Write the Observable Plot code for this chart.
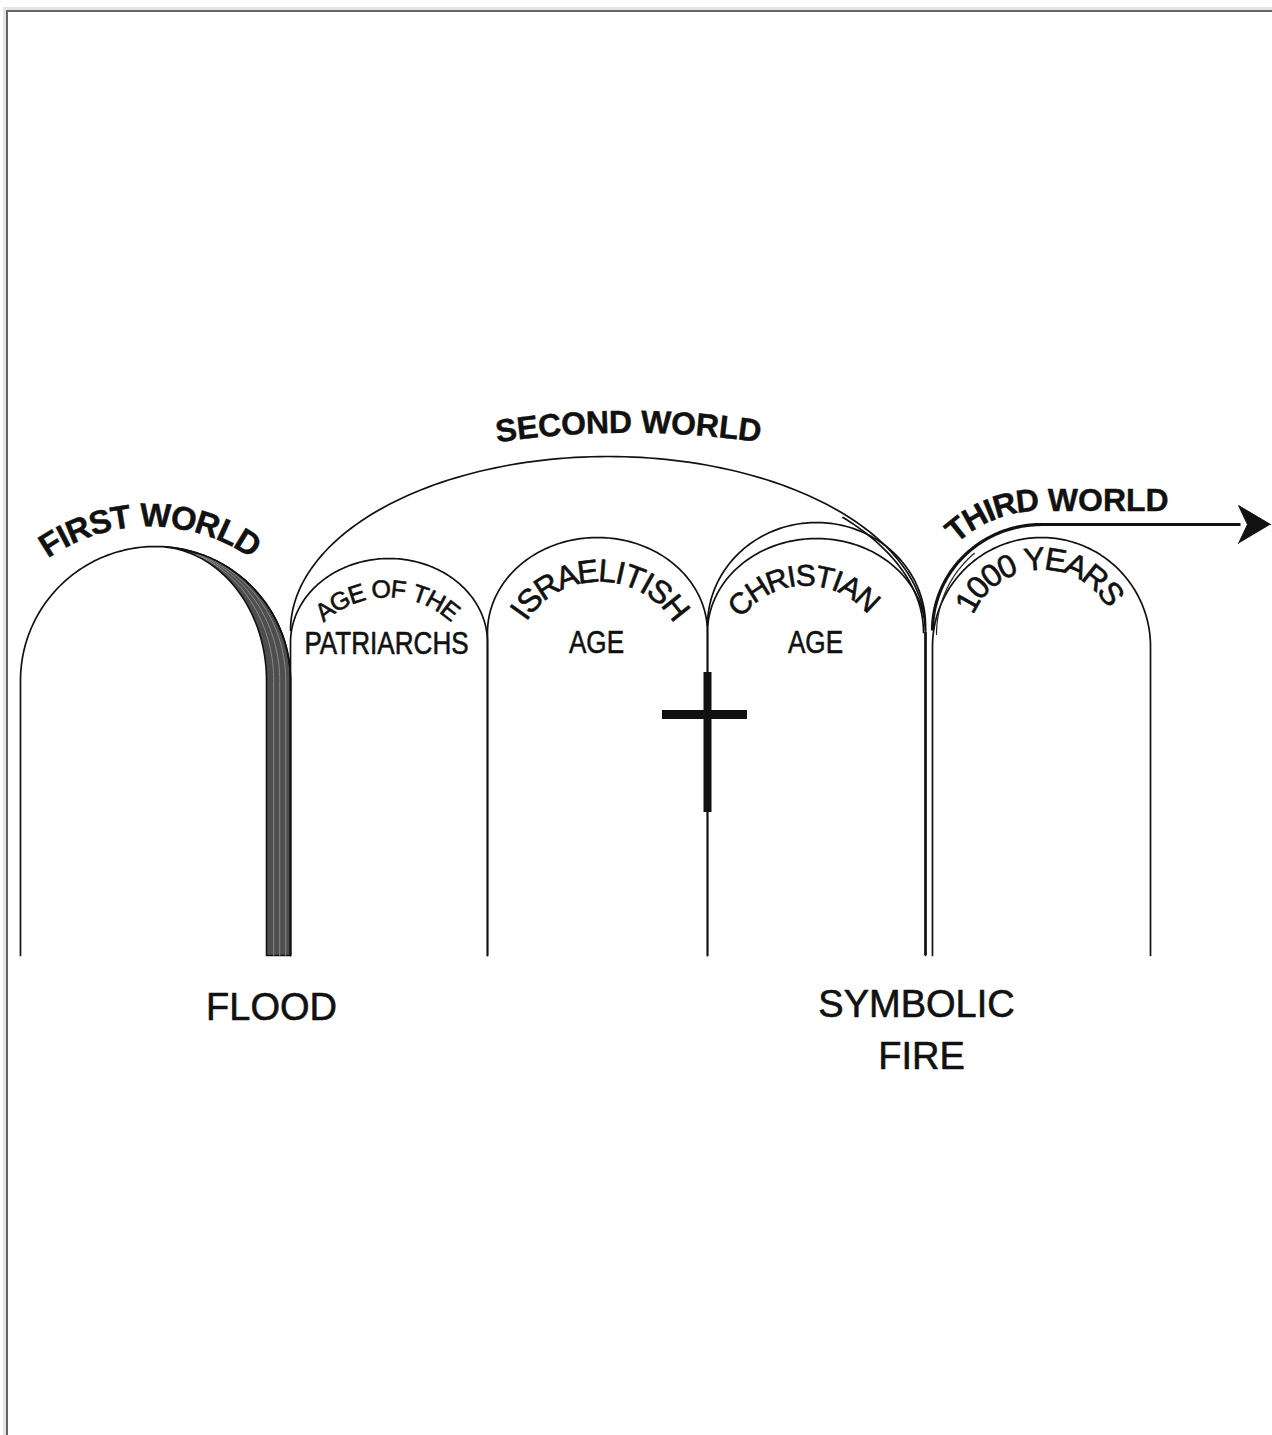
<!DOCTYPE html>
<html><head><meta charset="utf-8">
<script src="https://cdn.jsdelivr.net/npm/d3@7"></script>
<script src="https://cdn.jsdelivr.net/npm/@observablehq/plot@0.6"></script>
<style>
html,body{margin:0;padding:0;background:#fff;overflow:hidden;width:1272px;height:1435px;}
#chart{position:absolute;left:0;top:0;}
#frame{position:absolute;left:3px;top:7px;width:1400px;height:1600px;border-left:3px solid #e4e4e4;border-top:3px solid #e4e4e4;pointer-events:none;}
#frame div{width:100%;height:100%;border-left:2px solid #666;border-top:2px solid #666;}
</style></head><body>
<div id="chart"></div>
<div id="frame"><div></div></div>
<script>
// ---------- data (diagram units = page pixels, y measured downward) ----------
const ground = 955;
const archNames    = ["First world", "Age of the Patriarchs", "Israelitish age", "Christian age", "Christian age (outer)", "Second world", "1000 years"];
const archLeft     = [20, 290, 487, 707, 707, 290, 932];
const archRight    = [290, 487, 707, 925, 925, 925, 1150];
const archShoulder = [680, 642, 632, 632, 625, 630, 646];
const archApex     = [546, 558, 537, 538, 522, 456, 537];
const archLegs     = [true, true, true, true, false, false, true];

const floodInner = 266;           // inner edge of the shaded flood band

const curvedText   = ["FIRST WORLD", "SECOND WORLD", "AGE OF THE", "ISRAELITISH", "CHRISTIAN", "1000 YEARS"];
const curvedCx     = [149.5, 628, 387, 599, 805.5, 1041.5];
const curvedCy     = [703.5, 1326, 690, 668, 665, 644];
const curvedR      = [188, 904, 101, 97, 89.5, 85];
const curvedAngle  = [0, 0, 0, 0.5, -1.75, -2.7];
const curvedSize   = [33, 32, 25, 32, 30, 32];
const curvedBold   = [true, true, false, false, false, false];

const thirdWorldLabel = "THIRD WORLD";
const thirdWorldStart = 116;      // arc length to first letter centre along label path

const ageLabels = ["PATRIARCHS", "AGE", "AGE"];
const ageX = [386, 596, 815];
const ageY = [653, 652, 652];

const eventLabels = ["FLOOD", "SYMBOLIC", "FIRE"];
const eventX = [271, 916, 921];
const eventY = [1019, 1016, 1068];

const crossX = 707, crossTop = 672, crossBottom = 812, crossBarY = 714, crossLeft = 662, crossRight = 747;

// ---------- helpers ----------
const FONT = "'Liberation Sans', Arial, Helvetica, sans-serif";

function ellipsePts(cx, cy, rx, ry, t0, t1, n = 120) {
  const pts = [];
  for (let i = 0; i <= n; i++) {
    const t = (t0 + (t1 - t0) * i / n) * Math.PI / 180;
    pts.push([cx + rx * Math.cos(t), cy - ry * Math.sin(t)]);
  }
  return pts;
}
function makePoly(pts) {
  const cum = [0];
  for (let i = 1; i < pts.length; i++) cum.push(cum[i - 1] + Math.hypot(pts[i][0] - pts[i - 1][0], pts[i][1] - pts[i - 1][1]));
  return {pts, cum};
}
function pointAt(poly, s) {
  const {pts, cum} = poly;
  let i = 1;
  while (i < pts.length - 1 && cum[i] < s) i++;
  const a = pts[i - 1], b = pts[i];
  const f = (s - cum[i - 1]) / (cum[i] - cum[i - 1] || 1);
  return {x: a[0] + (b[0] - a[0]) * f, y: a[1] + (b[1] - a[1]) * f, rot: Math.atan2(b[1] - a[1], b[0] - a[0]) * 180 / Math.PI};
}
const ctx = document.createElement("canvas").getContext("2d");
function layout(text, poly, s, mode, size, bold, family) {
  ctx.font = `${bold ? "bold" : "normal"} ${size}px ${family}`;
  const chars = [...text];
  const edges = chars.map((_, i) => ctx.measureText(text.slice(0, i)).width);
  edges.push(ctx.measureText(text).width);
  const centers = chars.map((_, i) => (edges[i] + edges[i + 1]) / 2);
  const total = edges[edges.length - 1];
  const base = mode === "center" ? s - total / 2 : s - centers[0];
  const rows = [];
  chars.forEach((c, i) => {
    if (c === " ") return;
    const p = pointAt(poly, base + centers[i]);
    rows.push({ch: c, x: p.x, y: p.y, rot: p.rot, size});
  });
  return rows;
}

// ---------- geometry from data ----------
const archRows = [];
archNames.forEach((name, i) => {
  const L = archLeft[i], R = archRight[i], cy = archShoulder[i];
  let pts = ellipsePts((L + R) / 2, cy, (R - L) / 2, cy - archApex[i], 180, 0);
  if (archLegs[i]) pts = [[L, ground], ...pts, [R, ground]];
  pts.forEach(([x, y]) => archRows.push({arch: name, x, y}));
});
// second-world echo line near its right end
ellipsePts((archLeft[5] + archRight[5]) / 2 + 2, archShoulder[5] + 2, (archRight[5] - archLeft[5]) / 2 - 4, archShoulder[5] - archApex[5] - 2, 42, 0, 40)
  .forEach(([x, y]) => archRows.push({arch: "echo", x, y}));

// flood band
const fw = 0, fcx = (archLeft[fw] + archRight[fw]) / 2, fcy = archShoulder[fw], fry = fcy - archApex[fw];
const bandOuter = ellipsePts(fcx, fcy, archRight[fw] - fcx, fry, 85, 0, 60);
const bandInner = ellipsePts(fcx, fcy, floodInner - fcx, fry, 0, 85, 60);
const band = [...bandOuter, [archRight[fw], ground], [floodInner, ground], ...bandInner].map(([x, y]) => ({x, y}));
const streaks = [];
[0.3, 0.55, 0.8].forEach((f, k) => {
  const rx = floodInner - fcx + f * (archRight[fw] - floodInner);
  [...ellipsePts(fcx, fcy, rx, fry, 70, 0, 40), [fcx + rx, ground]].forEach(([x, y]) => streaks.push({k, x, y}));
});

// third world arrow path
const twL = archLeft[6], twCx = (archLeft[6] + archRight[6]) / 2, twY = 524, twEnd = 1240, twTip = 1270;
const twCurve = [...ellipsePts(twCx, archShoulder[5], twCx - twL, archShoulder[5] - twY, 180, 90, 60), [twEnd, twY]].map(([x, y]) => ({x, y}));
const twEcho = ellipsePts(twCx + 1, archShoulder[5] + 4, twCx - twL - 3, archShoulder[5] - twY, 180, 130, 30).map(([x, y]) => ({x, y}));
const arrowHead = [[twTip, twY], [twTip - 32, twY - 19], [twTip - 23, twY], [twTip - 32, twY + 19]].map(([x, y]) => ({x, y}));

// curved labels
const curvedRows = [];
curvedText.forEach((t, i) => {
  const r = curvedR[i];
  const poly = makePoly(ellipsePts(curvedCx[i], curvedCy[i], r, r, 180, 0, 720));
  const s = r * (90 + curvedAngle[i]) * Math.PI / 180;
  layout(t, poly, s, "center", curvedSize[i], curvedBold[i], FONT).forEach(d => curvedRows.push({...d, bold: curvedBold[i]}));
});
{
  const off = 24;
  const poly = makePoly([...ellipsePts(twCx, archShoulder[5], twCx - twL + off, archShoulder[5] - twY + off, 180, 90, 120), [1300, twY - off]]);
  layout(thirdWorldLabel, poly, thirdWorldStart, "start", 32, true, FONT).forEach(d => curvedRows.push({...d, bold: true}));
}

const ageRows = ageLabels.map((t, i) => ({t, x: ageX[i], y: ageY[i]}));
const eventRows = eventLabels.map((t, i) => ({t, x: eventX[i], y: eventY[i]}));

const plot = Plot.plot({
  width: 1272, height: 1435, margin: 0,
  style: {background: "transparent", overflow: "visible"},
  x: {domain: [0, 1272], range: [0, 1272], axis: null},
  y: {domain: [0, 1435], range: [0, 1435], axis: null},
  marks: [
    Plot.line(band, {x: "x", y: "y", fill: "#4e4e4e", stroke: "#111", strokeWidth: 1.6, curve: "linear"}),
    Plot.line(streaks, {x: "x", y: "y", z: "k", stroke: "#8a8a8a", strokeWidth: 1, curve: "linear"}),
    Plot.line(archRows, {x: "x", y: "y", z: "arch", stroke: "#111", strokeWidth: 1.7, curve: "linear"}),
    Plot.ruleX([archRight[3]], {y1: archShoulder[3], y2: ground, stroke: "#111", strokeWidth: 2.6}),
    Plot.line(twCurve, {x: "x", y: "y", stroke: "#111", strokeWidth: 3.2, curve: "linear", strokeLinecap: "butt"}),
    Plot.line(twEcho, {x: "x", y: "y", stroke: "#222", strokeWidth: 1.2, curve: "linear"}),
    Plot.line(arrowHead, {x: "x", y: "y", fill: "#111", stroke: "#111", strokeWidth: 1, curve: "linear"}),
    Plot.ruleX([crossX], {y1: crossTop, y2: crossBottom, stroke: "#111", strokeWidth: 8}),
    Plot.ruleY([crossBarY], {x1: crossLeft, x2: crossRight, stroke: "#111", strokeWidth: 9}),
    Plot.text(curvedRows.filter(d => d.bold), {x: "x", y: "y", text: "ch", rotate: "rot", fontSize: "size", fontWeight: "bold", fontFamily: FONT, fill: "#111", stroke: "#111", strokeWidth: 0.4, textAnchor: "middle", lineAnchor: "middle"}),
    Plot.text(curvedRows.filter(d => !d.bold), {x: "x", y: "y", text: "ch", rotate: "rot", fontSize: "size", fontFamily: FONT, fill: "#111", stroke: "#111", strokeWidth: 0.6, textAnchor: "middle", lineAnchor: "middle"}),
    Plot.text(ageRows, {x: "x", y: "y", text: "t", fontSize: 32, fontFamily: FONT, fill: "#111", stroke: "#111", strokeWidth: 0.6, textAnchor: "middle", lineAnchor: "bottom"}),
    Plot.text(eventRows, {x: "x", y: "y", text: "t", fontSize: 38, fontFamily: FONT, fill: "#111", stroke: "#111", strokeWidth: 0.6, textAnchor: "middle", lineAnchor: "bottom"})
  ]
});
document.getElementById("chart").appendChild(plot);
// the age names are set in a condensed face: compress them horizontally
ctx.font = "32px " + FONT;
d3.select(plot).selectAll("text").filter(function () { return ageLabels.includes(this.textContent); }).each(function () {
  const w = ctx.measureText(this.textContent).width * 0.815;
  this.setAttribute("textLength", w.toFixed(1));
  this.setAttribute("lengthAdjust", "spacingAndGlyphs");
});
</script></body></html>
